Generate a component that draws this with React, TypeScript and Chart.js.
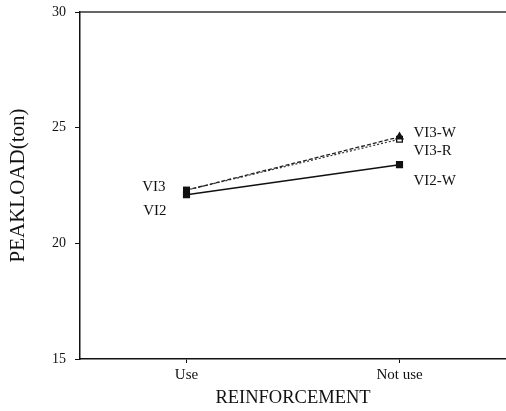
import React, { useEffect, useRef } from "react";
import { Chart, registerables } from "chart.js";

Chart.register(...registerables);

const categories = ["Use", "Not use"];
const vi2 = [22.1, 23.4];
const vi3W = [22.3, 24.6];
const vi3R = [22.3, 24.5];
const yTicks = [15, 20, 25, 30];
const pointLabels = ["VI3", "VI2", "VI3-W", "VI3-R", "VI2-W"];
// [datasetIndex, pointIndex, dx, dy, align]
const labelAnchors: [number, number, number, number, CanvasTextAlign][] = [
  [1, 0, -21, -3, "right"],
  [0, 0, -20, 16, "right"],
  [1, 1, 14, -4, "left"],
  [2, 1, 14, 12, "left"],
  [0, 1, 14, 16, "left"],
];

const FONT = "'Liberation Serif', 'DejaVu Serif', serif";

const decorPlugin = {
  id: "decor",
  afterDatasetsDraw(chart: any) {
    const { ctx, chartArea } = chart;
    ctx.save();
    ctx.strokeStyle = "#333";
    ctx.lineWidth = 1.5;
    ctx.beginPath();
    ctx.moveTo(chartArea.left, chartArea.top);
    ctx.lineTo(chartArea.right, chartArea.top);
    ctx.stroke();
    ctx.fillStyle = "#111";
    ctx.font = `15px ${FONT}`;
    ctx.textBaseline = "middle";
    const xs = chart.scales.x;
    const ys = chart.scales.y;
    pointLabels.forEach((t, i) => {
      const [di, pi, dx, dy, align] = labelAnchors[i];
      const v = chart.data.datasets[di].data[pi] as number;
      const px = xs.getPixelForValue(pi);
      const py = ys.getPixelForValue(v);
      ctx.textAlign = align;
      ctx.fillText(t, px + dx, py + dy);
    });
    ctx.restore();
  },
};

export default function App() {
  const ref = useRef<HTMLCanvasElement>(null);
  useEffect(() => {
    if (!ref.current) return;
    const chart = new Chart(ref.current, {
      type: "line",
      data: {
        labels: categories,
        datasets: [
          {
            label: "VI2",
            data: vi2,
            borderColor: "#111",
            backgroundColor: "#111",
            borderWidth: 1.5,
            pointStyle: "rect",
            pointRadius: 4,
            pointBackgroundColor: "#111",
            pointBorderColor: "#111",
          },
          {
            label: "VI3-W",
            data: vi3W,
            borderColor: "#222",
            borderWidth: 1.3,
            borderDash: [4, 2],
            pointStyle: ["rect", "triangle"],
            pointRadius: 4,
            pointBackgroundColor: "#111",
            pointBorderColor: "#111",
          },
          {
            label: "VI3-R",
            data: vi3R,
            borderColor: "#333",
            borderWidth: 1.2,
            borderDash: [2, 2],
            pointStyle: "rect",
            pointRadius: 4,
            pointBackgroundColor: ["#111", "#fff"],
            pointBorderColor: "#111",
            pointBorderWidth: 1.3,
          },
        ],
      },
      options: {
        animation: false,
        responsive: false,
        layout: { autoPadding: false, padding: { top: 12, right: 0, left: 0, bottom: 0 } },
        plugins: { legend: { display: false }, tooltip: { enabled: false } },
        scales: {
          x: {
            type: "category",
            offset: true,
            grid: {
              display: true,
              drawOnChartArea: false,
              offset: false,
              tickLength: 4,
              color: "#111",
            },
            border: { display: true, color: "#111", width: 1.5 },
            ticks: { color: "#111", font: { family: FONT, size: 15 }, padding: 3 },
            title: {
              display: true,
              text: "REINFORCEMENT",
              color: "#111",
              font: { family: FONT, size: 18.5 },
              padding: { top: 0, bottom: 2 },
            },
            afterFit: (s: any) => {
              s.height = 52;
              s.paddingLeft = 0;
              s.paddingRight = 0;
            },
          },
          y: {
            min: 15,
            max: 30,
            afterBuildTicks: (s: any) => {
              s.ticks = yTicks.map((v) => ({ value: v }));
            },
            grid: {
              display: true,
              drawOnChartArea: false,
              tickLength: 5,
              color: "#111",
            },
            border: { display: true, color: "#111", width: 1.5 },
            ticks: { color: "#111", font: { family: FONT, size: 14 }, padding: 9 },
            title: {
              display: true,
              text: "PEAKLOAD(ton)",
              color: "#111",
              font: { family: FONT, size: 21 },
              padding: { top: 6, bottom: 0 },
            },
            afterFit: (s: any) => {
              s.width = 80;
              s.paddingTop = 0;
              s.paddingBottom = 0;
            },
          },
        },
      },
      plugins: [decorPlugin],
    });
    return () => chart.destroy();
  }, []);
  return (
    <div style={{ position: "absolute", left: 0, top: 0, width: 506, height: 411, background: "#fff" }}>
      <canvas ref={ref} width={506} height={411} style={{ width: 506, height: 411, display: "block" }} />
    </div>
  );
}
